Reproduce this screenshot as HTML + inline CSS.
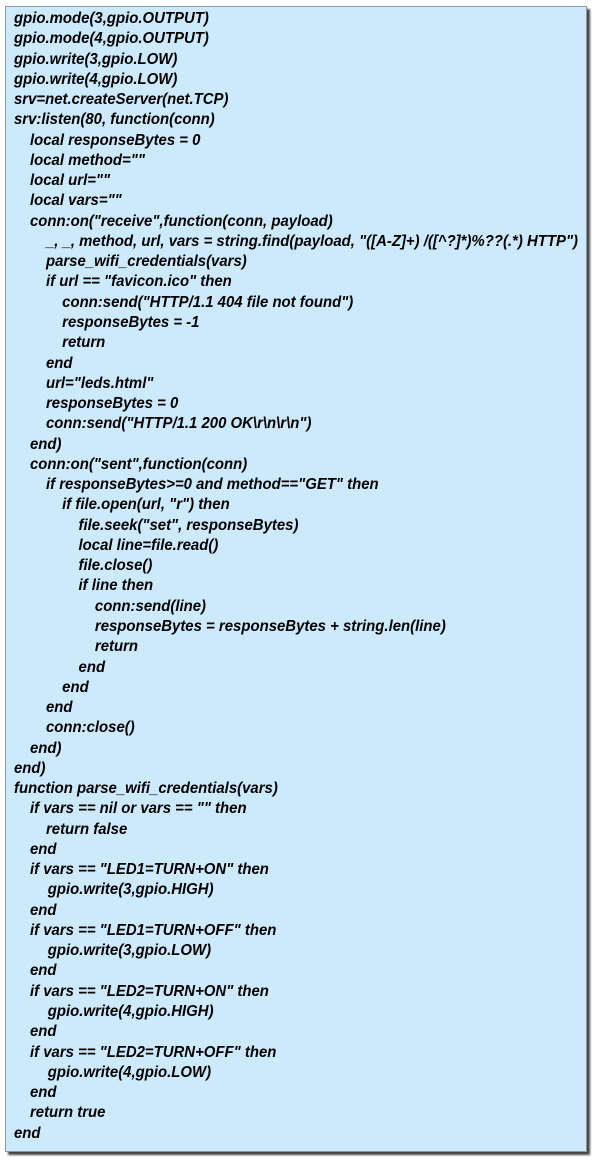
<!DOCTYPE html>
<html><head><meta charset="utf-8"><style>
html,body{margin:0;padding:0;background:#fff;width:600px;height:1164px;overflow:hidden}
.box{position:absolute;left:5px;top:6px;width:580px;height:1144px;background:#cdeafd;border:1px solid #8a9aa4;box-shadow:3px 3px 2px #444}
.code{position:absolute;left:14px;top:9px;font-family:"Liberation Sans",sans-serif;font-weight:bold;font-style:italic;font-size:15.5px;line-height:20.27px;color:#000;transform:scaleX(0.963);transform-origin:0 0;width:700px}
.code div{height:20.27px;white-space:pre}
.a{padding-left:16.6px}.b{padding-left:33.2px}.c{padding-left:50px}.d{padding-left:67px}.e{padding-left:84px}.g{padding-left:35px}
</style></head><body>
<div class="box"></div>
<div class="code"><div>gpio.mode(3,gpio.OUTPUT)</div><div>gpio.mode(4,gpio.OUTPUT)</div><div>gpio.write(3,gpio.LOW)</div><div>gpio.write(4,gpio.LOW)</div><div>srv=net.createServer(net.TCP)</div><div>srv:listen(80, function(conn)</div><div class="a">local responseBytes = 0</div><div class="a">local method=""</div><div class="a">local url=""</div><div class="a">local vars=""</div><div class="a">conn:on("receive",function(conn, payload)</div><div class="b">_, _, method, url, vars = string.find(payload, "([A-Z]+) /([^?]*)%??(.*) HTTP")</div><div class="b">parse_wifi_credentials(vars)</div><div class="b">if url == "favicon.ico" then</div><div class="c">conn:send("HTTP/1.1 404 file not found")</div><div class="c">responseBytes = -1</div><div class="c">return</div><div class="b">end</div><div class="b">url="leds.html"</div><div class="b">responseBytes = 0</div><div class="b">conn:send("HTTP/1.1 200 OK\r\n\r\n")</div><div class="a">end)</div><div class="a">conn:on("sent",function(conn)</div><div class="b">if responseBytes&gt;=0 and method=="GET" then</div><div class="c">if file.open(url, "r") then</div><div class="d">file.seek("set", responseBytes)</div><div class="d">local line=file.read()</div><div class="d">file.close()</div><div class="d">if line then</div><div class="e">conn:send(line)</div><div class="e">responseBytes = responseBytes + string.len(line)</div><div class="e">return</div><div class="d">end</div><div class="c">end</div><div class="b">end</div><div class="b">conn:close()</div><div class="a">end)</div><div>end)</div><div>function parse_wifi_credentials(vars)</div><div class="a">if vars == nil or vars == "" then</div><div class="b">return false</div><div class="a">end</div><div class="a">if vars == "LED1=TURN+ON" then</div><div class="g">gpio.write(3,gpio.HIGH)</div><div class="a">end</div><div class="a">if vars == "LED1=TURN+OFF" then</div><div class="g">gpio.write(3,gpio.LOW)</div><div class="a">end</div><div class="a">if vars == "LED2=TURN+ON" then</div><div class="g">gpio.write(4,gpio.HIGH)</div><div class="a">end</div><div class="a">if vars == "LED2=TURN+OFF" then</div><div class="g">gpio.write(4,gpio.LOW)</div><div class="a">end</div><div class="a">return true</div><div>end</div></div>
</body></html>
